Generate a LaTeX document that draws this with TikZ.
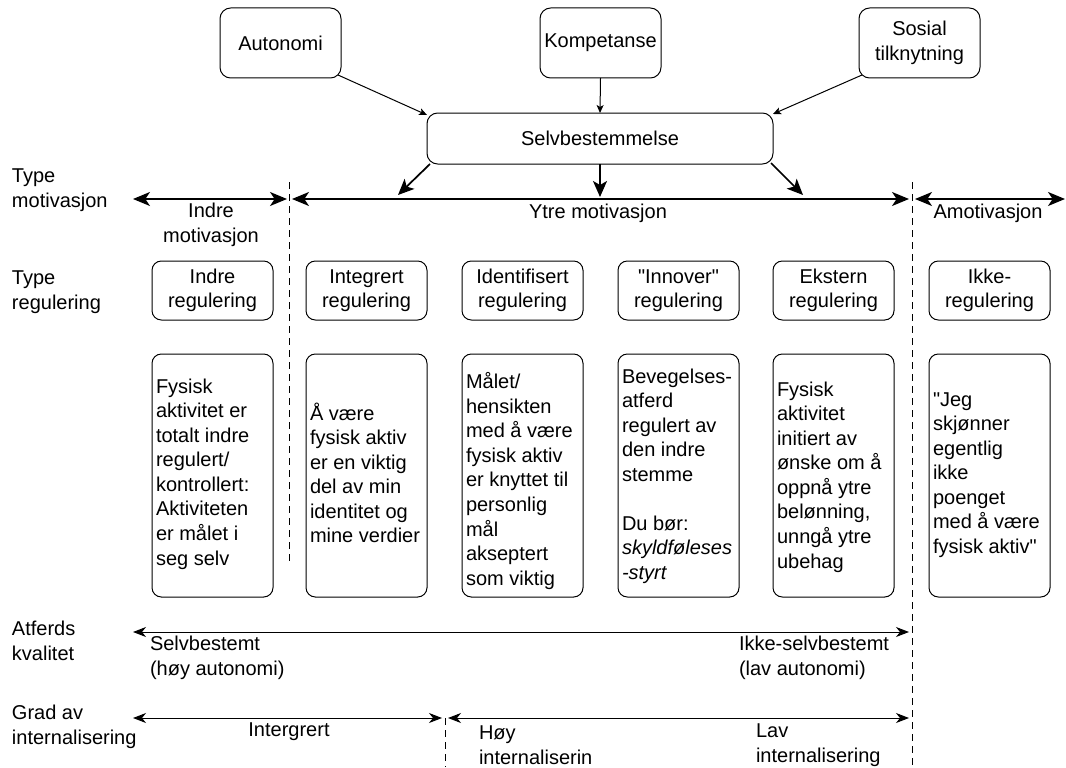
\documentclass[tikz,border=0pt]{standalone}
\usepackage{fontspec}
\setmainfont{Liberation Sans}
\newfontfamily\qf{Liberation Sans}
\newcommand{\sq}{{\qf"}}
\usetikzlibrary{arrows.meta,calc}
\begin{document}
\begin{tikzpicture}[x=0.75pt,y=-0.75pt,
  every node/.style={font=\fontsize{15}{18.4}\selectfont, inner sep=0pt, outer sep=0pt},
  rbox/.style={draw=black, line width=0.75pt, rounded corners=7pt, align=center},
  topbox/.style={rbox, rounded corners=8pt, minimum width=90.75pt, minimum height=52.5pt},
  selvbox/.style={rbox, rounded corners=8pt, minimum width=259.5pt, minimum height=38.25pt},
  regbox/.style={rbox, minimum width=90.75pt, minimum height=44.25pt},
  bigbox/.style={rbox, minimum width=90.75pt, minimum height=182.25pt},
  bigtext/.style={anchor=west, align=left},
  lbl/.style={anchor=west, align=left},
  thinarr/.style={line width=0.75pt, -{Stealth[length=6pt, width=5.25pt, inset=1.5pt]}},
  outarr/.style={line width=1.3pt, -{Stealth[length=12pt, width=10.5pt, inset=3pt]}},
  rowarr/.style={line width=1.3pt, {Stealth[length=12.75pt, width=10.5pt, inset=3.5pt]}-{Stealth[length=12.75pt, width=10.5pt, inset=3.5pt]}},
  botarr/.style={line width=0.75pt, {Stealth[length=9.75pt, width=7.5pt, inset=3pt]}-{Stealth[length=9.75pt, width=7.5pt, inset=3pt]}},
  divider/.style={line width=0.75pt, dash pattern=on 5.25pt off 3.75pt}
]
\useasboundingbox (0,0) rectangle (1066,767);

% top boxes
\node[topbox] (aut) at (280.5,43) {Autonomi};
\node[topbox] (komp) at (600.5,43) {Kompetanse};
\node[topbox] (sos) at (919.5,43) {Sosial\\tilknytning};
\node[selvbox] (selv) at (600,138.5) {Selvbestemmelse};

\draw[thinarr] ([shift={(-3,-3)}]aut.south east) -- ([shift={(0,2)}]selv.north west);
\draw[thinarr] (komp.south) -- (selv.north);
\draw[thinarr] ([shift={(3,-3)}]sos.south west) -- ([shift={(0,1)}]selv.north east);

\coordinate (oL) at (398,195);
\coordinate (oC) at (600,197);
\coordinate (oR) at (803,195);
\draw[outarr] ([shift={(3,0)}]selv.south west) -- (oL);
\draw[outarr] (selv.south) -- (oC);
\draw[outarr] ([shift={(-2,-1)}]selv.south east) -- (oR);

% type motivasjon row
\node[lbl] (lTM) at (12,190) {Type\\motivasjon};
\coordinate (tmL) at (133,199);
\coordinate (tmA) at (287,199);
\coordinate (tmB) at (292,199);
\coordinate (tmC) at (909,199);
\coordinate (tmD) at (915,199);
\coordinate (tmR) at (1065,199);
\draw[rowarr] (tmL) -- (tmA);
\draw[rowarr] (tmB) -- (tmC);
\draw[rowarr] (tmD) -- (tmR);
\node[align=center] (mIndre) at (211,225) {Indre\\motivasjon};
\node (mYtre) at (598,213) {Ytre motivasjon};
\node (mAmot) at (988,213) {Amotivasjon};

% dividers
\coordinate (d1t) at (289,182);
\coordinate (d1b) at (289,562);
\coordinate (d2t) at (912,182);
\coordinate (d2b) at (912,767);
\coordinate (d3t) at (445,718);
\coordinate (d3b) at (445,767);
\draw[divider] (d1t) -- (d1b);
\draw[divider] (d2t) -- (d2b);
\draw[divider] (d3t) -- (d3b);

% type regulering row
\node[lbl] (lTR) at (12,292) {Type\\regulering};
\node[regbox] (r1) at (212.5,290.5) {Indre\\regulering};
\node[regbox] (r2) at (366.5,290.5) {Integrert\\regulering};
\node[regbox] (r3) at (522.5,290.5) {Identifisert\\regulering};
\node[regbox] (r4) at (678.5,290.5) {\sq Innover\sq\\regulering};
\node[regbox] (r5) at (833.5,290.5) {Ekstern\\regulering};
\node[regbox] (r6) at (989.5,290.5) {Ikke-\\regulering};

% big boxes
\node[bigbox] (b1) at (212.5,475.5) {};
\node[bigbox] (b2) at (366.5,475.5) {};
\node[bigbox] (b3) at (522.5,475.5) {};
\node[bigbox] (b4) at (678.5,475.5) {};
\node[bigbox] (b5) at (833.5,475.5) {};
\node[bigbox] (b6) at (989.5,475.5) {};

\node[bigtext] (t1) at (156,474) {Fysisk\\aktivitet er\\totalt indre\\regulert/\\kontrollert:\\Aktiviteten\\er målet i\\seg selv};
\node[bigtext] (t2) at (310,473) {Å være\\fysisk aktiv\\er en viktig\\del av min\\identitet og\\mine verdier};
\node[bigtext] (t3) at (466,481) {Målet/\\hensikten\\med å være\\fysisk aktiv\\er knyttet til\\personlig\\mål\\akseptert\\som viktig};
\node[bigtext] (t4) at (622,476) {Bevegelses-\\atferd\\regulert av\\den indre\\stemme\\[18.4pt]Du bør:\\\textit{skyldføleses}\\\textit{-styrt}};
\node[bigtext] (t5) at (777,477) {Fysisk\\aktivitet\\initiert av\\ønske om å\\oppnå ytre\\belønning,\\unngå ytre\\ubehag};
\node[bigtext] (t6) at (933,475) {\sq Jeg\\skjønner\\egentlig\\ikke\\poenget\\med å være\\fysisk aktiv\sq};

% atferds kvalitet
\node[lbl] (lAK) at (12,641) {Atferds\\kvalitet};
\coordinate (akL) at (133,632);
\coordinate (akR) at (909,632);
\draw[botarr] (akL) -- (akR);
\node[lbl] (akS) at (150,658) {Selvbestemt\\(høy autonomi)};
\node[lbl] (akI) at (739,658) {Ikke-selvbestemt\\(lav autonomi)};

% grad av internalisering
\node[lbl] (lGI) at (12,727) {Grad av\\internalisering};
\coordinate (giL) at (133,718);
\coordinate (giA) at (442,718);
\coordinate (giB) at (448,718);
\coordinate (giR) at (909,718);
\draw[botarr] (giL) -- (giA);
\draw[botarr] (giB) -- (giR);
\node (giI) at (289,732) {Intergrert};
\node[lbl] (giH) at (479,745) {Høy\\internaliserin};
\node[lbl] (giLav) at (756,745) {Lav\\internalisering};
\end{tikzpicture}
\end{document}
